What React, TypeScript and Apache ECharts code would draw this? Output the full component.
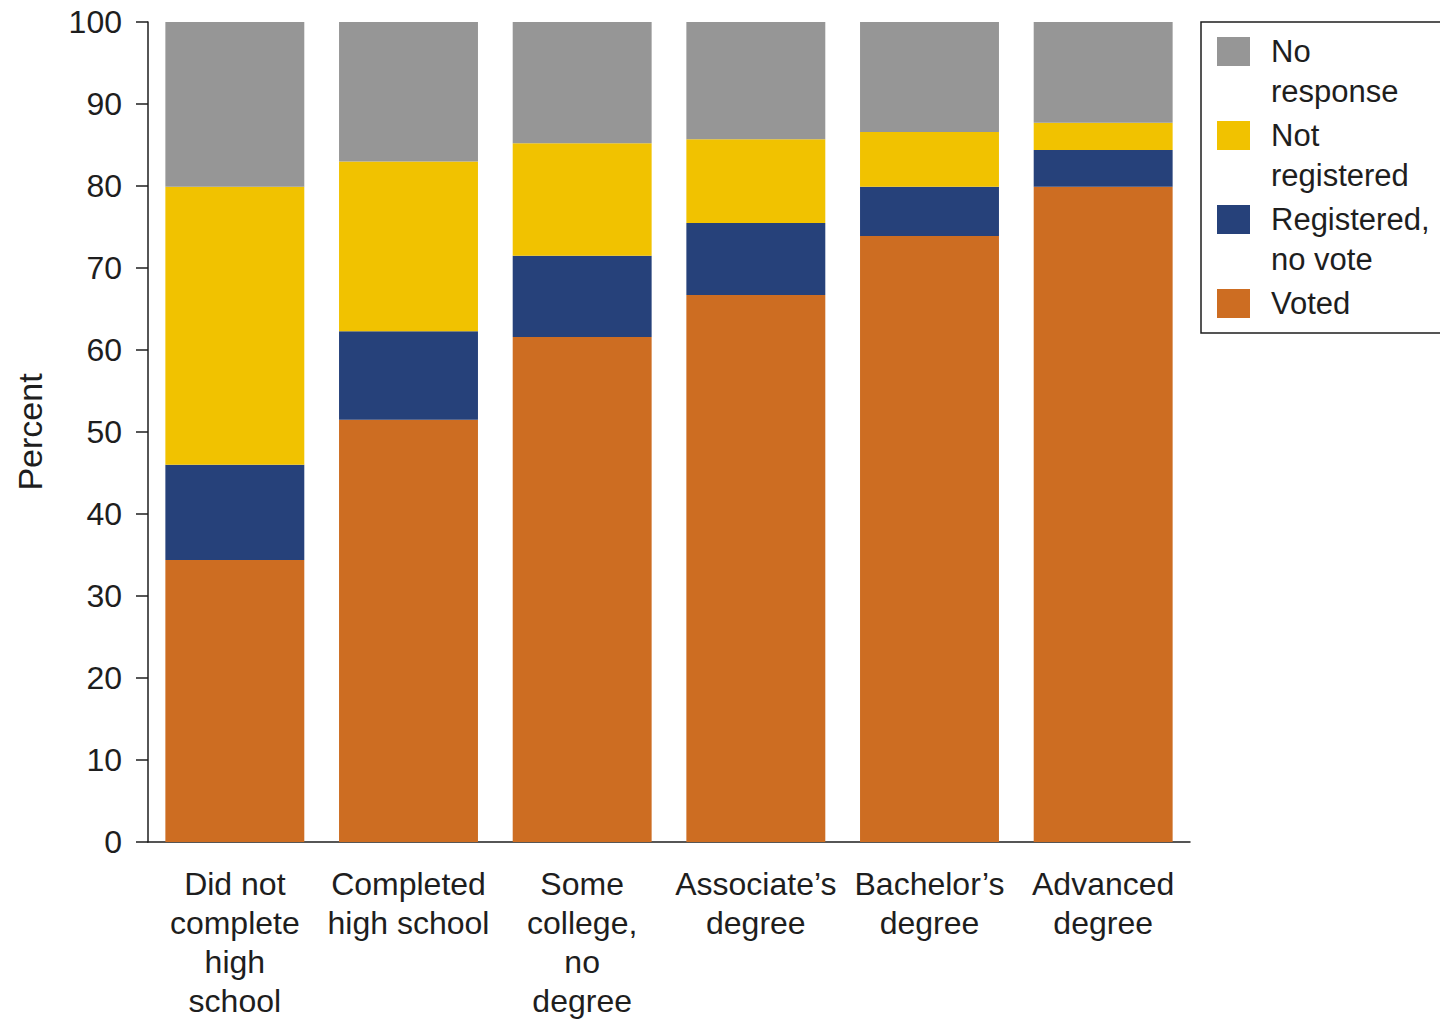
import React, { useEffect, useRef } from "react";
import * as echarts from "echarts";

const categories = [
  "Did not\ncomplete\nhigh\nschool",
  "Completed\nhigh school",
  "Some\ncollege,\nno\ndegree",
  "Associate\u2019s\ndegree",
  "Bachelor\u2019s\ndegree",
  "Advanced\ndegree",
];

// Stacked shares (percent), bottom to top
const voted = [34.4, 51.5, 61.6, 66.7, 73.9, 79.9];
const registeredNoVote = [11.6, 10.8, 9.9, 8.8, 6.0, 4.5];
const notRegistered = [33.9, 20.7, 13.7, 10.2, 6.7, 3.3];
const noResponse = [20.1, 17.0, 14.8, 14.3, 13.4, 12.3];

const yTicks = { min: 0, max: 100, interval: 10 };

const seriesDefs = [
  { name: "Voted", legend: "Voted", data: voted, color: "#cd6d22" },
  { name: "Registered, no vote", legend: "Registered,\nno vote", data: registeredNoVote, color: "#26417a" },
  { name: "Not registered", legend: "Not\nregistered", data: notRegistered, color: "#f1c200" },
  { name: "No response", legend: "No\nresponse", data: noResponse, color: "#969696" },
];

const FONT = "'Liberation Sans', Arial, sans-serif";
const INK = "#1e1e1e";

export default function App() {
  const ref = useRef<HTMLDivElement>(null);

  useEffect(() => {
    document.body.style.margin = "0";
    const chart = echarts.init(ref.current!, null, { renderer: "svg" });

    // Legend drawn top to bottom in reverse stacking order
    const legendItems = [...seriesDefs].reverse();
    const legendX = 1201;
    const legendY = 22;
    const legendChildren: any[] = [
      {
        type: "rect",
        shape: { x: legendX, y: legendY, width: 260, height: 311 },
        style: { fill: "#fff", stroke: INK, lineWidth: 1.5 },
      },
    ];
    legendItems.forEach((s, i) => {
      const top = legendY + 15 + i * 84;
      legendChildren.push({
        type: "rect",
        shape: { x: 1217, y: top, width: 33, height: 29 },
        style: { fill: s.color },
      });
      legendChildren.push({
        type: "text",
        x: 1271,
        y: top - 6,
        style: {
          text: s.legend,
          font: `31px ${FONT}`,
          lineHeight: 40,
          fill: INK,
          textVerticalAlign: "top",
        },
      });
    });

    chart.setOption({
      animation: false,
      grid: {
        left: 148,
        width: 1042,
        top: 22,
        height: 820,
        containLabel: false,
        outerBoundsMode: "none",
      },
      xAxis: {
        type: "category",
        data: categories,
        axisLine: { lineStyle: { color: INK, width: 1.5 } },
        axisTick: { alignWithLabel: true, length: 13, lineStyle: { color: INK, width: 1.5 } },
        axisLabel: {
          interval: 0,
          margin: 22,
          color: INK,
          fontFamily: FONT,
          fontSize: 32,
          lineHeight: 39,
          align: "center",
        },
      },
      yAxis: {
        type: "value",
        min: yTicks.min,
        max: yTicks.max,
        interval: yTicks.interval,
        name: "Percent",
        nameLocation: "middle",
        nameGap: 101,
        nameRotate: 90,
        nameTextStyle: { color: INK, fontFamily: FONT, fontSize: 34 },
        axisLine: { show: true, lineStyle: { color: INK, width: 1.5 } },
        axisTick: { show: true, length: 12, lineStyle: { color: INK, width: 1.5 } },
        axisLabel: { margin: 26, color: INK, fontFamily: FONT, fontSize: 32 },
        splitLine: { show: false },
      },
      series: seriesDefs.map((s) => ({
        type: "bar",
        name: s.name,
        stack: "total",
        data: s.data,
        barCategoryGap: "20%",
        itemStyle: { color: s.color },
      })),
      graphic: legendChildren,
    });

    return () => chart.dispose();
  }, []);

  return (
    <div
      ref={ref}
      style={{ position: "fixed", left: 0, top: 0, width: 1440, height: 1020, background: "#fff" }}
    />
  );
}
